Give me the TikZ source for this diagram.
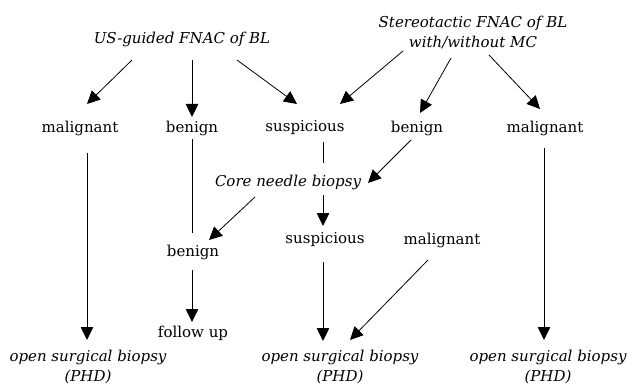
\documentclass[tikz,border=0pt]{standalone}
\usepackage{fontspec}
\setmainfont{DejaVu Serif}
\usetikzlibrary{arrows.meta,calc}
\begin{document}
\begin{tikzpicture}[x=1pt,y=-1pt,
  lbl/.style={inner sep=0pt,font=\fontsize{15}{20}\selectfont,align=center},
  ilbl/.style={lbl,font=\fontsize{15}{20}\selectfont\itshape},
  arr/.style={line width=0.8pt,-{Triangle[length=13pt,width=12.5pt]}},
  ln/.style={line width=0.8pt}]
\useasboundingbox (0,0) rectangle (637,385);
\node[ilbl] (us) at (182,39) {US-guided FNAC of BL};
\node[ilbl] (st) at (473,32) {Stereotactic FNAC of BL\\with/without MC};
\node[lbl] (mal1) at (80,128) {malignant};
\node[lbl] (ben1) at (192,128) {benign};
\node[lbl] (sus1) at (305,128) {suspicious};
\node[lbl] (ben2) at (417,128) {benign};
\node[lbl] (mal2) at (545,128) {malignant};
\node[ilbl] (cnb) at (288,182) {Core needle biopsy};
\node[lbl] (ben3) at (193,252) {benign};
\node[lbl] (sus2) at (325,240) {suspicious};
\node[lbl] (mal3) at (442,240) {malignant};
\node[lbl] (fu) at (193,333) {follow up};
\node[ilbl] (osb1) at (88,367) {open surgical biopsy\\(PHD)};
\node[ilbl] (osb2) at (340,367) {open surgical biopsy\\(PHD)};
\node[ilbl] (osb3) at (548,367) {open surgical biopsy\\(PHD)};
\draw[arr] ($(us)+(-50,21)$) -- ($(mal1)+(7,-24)$);
\draw[arr] ($(us)+(10,21)$) -- ($(ben1)+(0,-11)$);
\draw[arr] ($(us)+(55,21)$) -- ($(sus1)+(-8,-24)$);
\draw[arr] ($(st)+(-70,19)$) -- ($(sus1)+(35,-24)$);
\draw[arr] ($(st)+(-22,26)$) -- ($(ben2)+(3,-15)$);
\draw[arr] ($(st)+(16,23)$) -- ($(mal2)+(-5,-19)$);
\draw[arr] ($(mal1)+(7,25)$) -- ($(osb1)+(-1,-27)$);
\draw[ln] ($(ben1)+(0,11)$) -- ($(ben3)+(-1,-19)$);
\draw[arr] ($(ben3)+(-1,18)$) -- ($(fu)+(-1,-11)$);
\draw[ln] ($(sus1)+(18,14)$) -- ($(cnb)+(35,-19)$);
\draw[arr] ($(cnb)+(35,13)$) -- ($(sus2)+(-2,-14)$);
\draw[arr] ($(ben2)+(-6,12)$) -- ($(cnb)+(80,1)$);
\draw[arr] ($(cnb)+(-33,15)$) -- ($(ben3)+(16,-12)$);
\draw[arr] ($(sus2)+(-2,22)$) -- ($(osb2)+(-17,-26)$);
\draw[arr] ($(mal3)+(-14,20)$) -- ($(osb2)+(10,-27)$);
\draw[arr] ($(mal2)+(-1,20)$) -- ($(osb3)+(-4,-27)$);
\end{tikzpicture}
\end{document}
